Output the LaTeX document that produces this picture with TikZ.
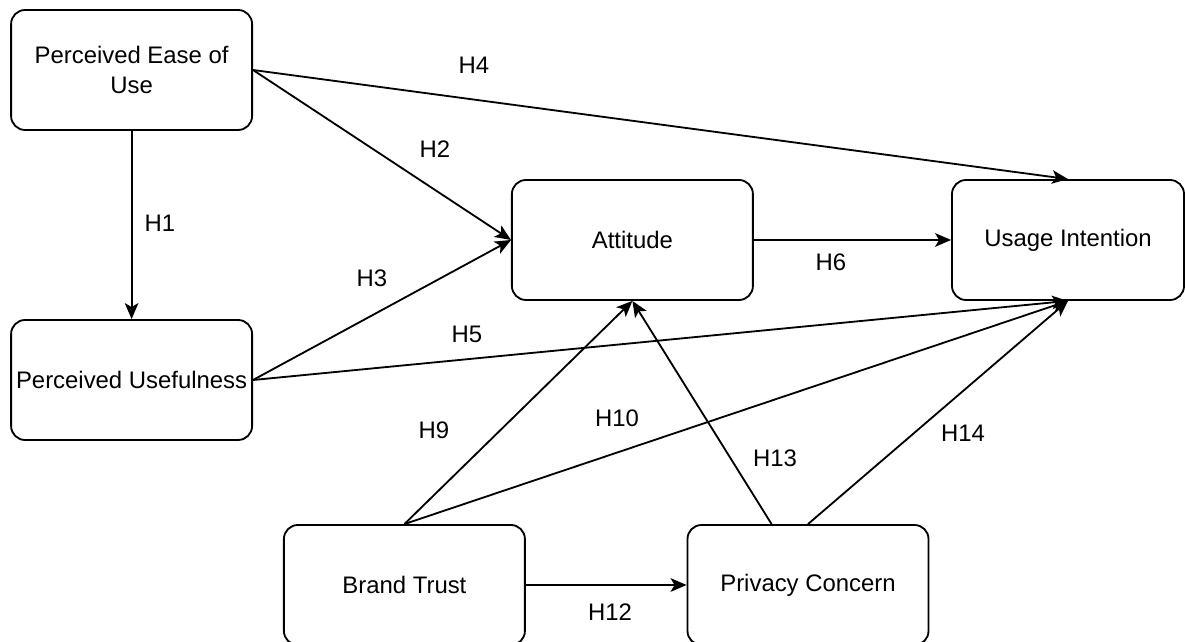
\documentclass[tikz,border=0pt]{standalone}
\usepackage{fontspec}
\setmainfont{Liberation Sans}
\usepackage{tikz}
\usetikzlibrary{positioning,calc,arrows.meta}

\tikzset{
  construct/.style={draw, line width=1.3pt, rounded corners=0.35cm,
    minimum width=6.025cm, minimum height=3cm, inner sep=2pt, align=center,
    font=\fontsize{17}{21.3}\selectfont},
  hyp/.style={line width=1.3pt, -{Stealth[length=0.4cm,width=0.34cm,inset=0.1cm]}},
  hlabel/.style={font=\fontsize{17}{20}\selectfont, inner sep=0pt}
}

\begin{document}
\begin{tikzpicture}
            \useasboundingbox (0,0) rectangle (29.625,16.025);

            % Constructs
            \node[construct] (peu) at (3.29,14.275) {Perceived Ease of\\Use};
            \node[construct] (pu) at (3.29,6.525) {Perceived Usefulness};
            \node[construct] (att) at (15.81,10.025) {Attitude};
            \node[construct, minimum width=5.8cm] (ui) at (26.7,10.025) {Usage Intention};
            \node[construct] (bt) at (10.11,1.4) {Brand Trust};
            \node[construct] (pc) at (20.2,1.4) {Privacy Concern};
            \coordinate (pcout) at ($(pc.north west)!0.35!(pc.north east)$);

            % Hypotheses
            \draw[hyp] (peu.south) -- (pu.north);
            \draw[hyp] (peu.east) -- (att.west);
            \draw[hyp] (peu.east) -- (ui.north);
            \draw[hyp] (pu.east) -- (att.west);
            \draw[hyp] (pu.east) -- (ui.south);
            \draw[hyp] (att.east) -- (ui.west);
            \draw[hyp] (bt.north) -- (att.south);
            \draw[hyp] (bt.north) -- (ui.south);
            \draw[hyp] (bt.east) -- (pc.west);
            \draw[hyp] (pcout) -- (att.south);
            \draw[hyp] (pc.north) -- (ui.south);

            % Labels
            \node[hlabel] (h1) at (4.0,10.45) {H1};
            \node[hlabel] (h2) at (10.875,12.3) {H2};
            \node[hlabel] (h3) at (9.3,9.075) {H3};
            \node[hlabel] (h4) at (11.85,14.4) {H4};
            \node[hlabel] (h5) at (11.675,7.675) {H5};
            \node[hlabel] (h6) at (20.775,9.475) {H6};
            \node[hlabel] (h9) at (10.85,5.275) {H9};
            \node[hlabel] (h10) at (15.425,5.575) {H10};
            \node[hlabel] (h12) at (15.25,0.725) {H12};
            \node[hlabel] (h13) at (19.375,4.575) {H13};
            \node[hlabel] (h14) at (24.075,5.2) {H14};
        \end{tikzpicture}
\end{document}
